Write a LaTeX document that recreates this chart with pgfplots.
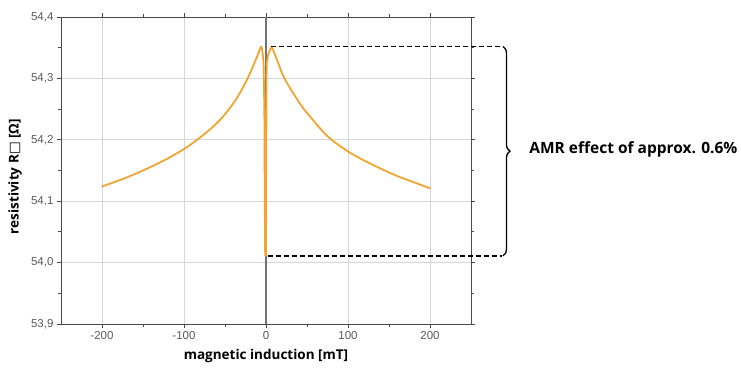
\documentclass[border=0pt]{standalone}
\usepackage{fontspec}
\setmainfont{Open Sans}
\newfontfamily\tickfont{Liberation Sans}
\newfontfamily\dejavu{DejaVu Sans}
\usepackage{pgfplots}
\pgfplotsset{compat=1.18}
\usetikzlibrary{decorations.pathreplacing}
\definecolor{curve}{HTML}{F2A431}
\definecolor{gridc}{HTML}{D6D6D6}
\definecolor{axc}{HTML}{4A4A4A}
\definecolor{tickc}{HTML}{5A5A5A}
\begin{document}
\begin{tikzpicture}[x=1pt,y=1pt]
\useasboundingbox (0,0) rectangle (741,371);
\begin{axis}[
  at={(61pt,47pt)}, anchor=south west,
  scale only axis, width=410pt, height=307pt,
  xmin=-250, xmax=250, ymin=53.9, ymax=54.4,
  xtick={-200,-100,0,100,200},
  ytick={53.9,54,54.1,54.2,54.3,54.4},
  minor tick num=1,
  grid=major,
  major grid style={gridc, line width=0.9pt},
  axis line style={axc, line width=0.9pt},
  tick style={axc, line width=0.8pt},
  tick align=outside,
  major tick length=4pt, minor tick length=3pt,
  /pgf/number format/assume math mode=true,
  ticklabel style={font=\tickfont\fontsize{11.5}{13}\selectfont, text=tickc},
  yticklabel style={/pgf/number format/.cd, use comma, fixed, fixed zerofill, precision=1},
  xticklabel style={/pgf/number format/.cd, fixed, precision=0},
  xlabel={\bfseries magnetic induction [mT]},
  xlabel style={at={(axis description cs:0.5,0)}, anchor=center, yshift=-32pt, font=\fontsize{13.5}{15}\selectfont},
  ylabel={\bfseries resistivity R{\dejavu □} [Ω]},
  ylabel style={at={(axis description cs:0,0.48)}, anchor=center, yshift=46pt, font=\fontsize{13.5}{15}\selectfont},
  clip=false,
]
\draw[color=black!55, line width=1.3pt] (axis cs:0,53.9) -- (axis cs:0,54.4);
% left branch
\addplot[color=curve, line width=1.8pt, mark=none, smooth, tension=0.5, line cap=round] coordinates {
(-200,54.124) (-175,54.136) (-150,54.150) (-122,54.168) (-100,54.185)
(-85,54.199) (-70,54.215) (-57,54.231) (-45,54.250) (-35,54.269)
(-25,54.293) (-18,54.313) (-12,54.332) (-9,54.342) (-6,54.352)
};
% spike around zero
\addplot[color=curve, line width=1.8pt, mark=none, line join=round] coordinates {
(-6,54.352) (-5,54.349) (-4,54.340) (-3,54.326) (-2,54.250)
(-1.5,54.100) (-1,54.011) (0,54.011) (0.3,54.150) (0.6,54.300)
(1,54.325) (2.5,54.338) (5,54.347) (7,54.351)
};
% right branch
\addplot[color=curve, line width=1.8pt, mark=none, smooth, tension=0.5, line cap=round] coordinates {
(7,54.351) (9,54.345) (12,54.335) (16,54.321) (21,54.304)
(28,54.287) (36,54.270) (45,54.252) (55,54.236) (67,54.217)
(80,54.200) (100,54.181) (120,54.166) (140,54.153) (160,54.141)
(180,54.131) (200,54.121)
};
\draw[black, line width=1.4pt, dash pattern=on 5pt off 3pt] (axis cs:6,54.352) -- (axis cs:288,54.352);
\draw[black, line width=1.4pt, dash pattern=on 5pt off 3pt] (axis cs:2,54.011) -- (axis cs:288,54.011);
\draw[black, line width=1.3pt, decorate, decoration={brace, amplitude=7pt}] (axis cs:289,54.352) -- (axis cs:289,54.011);
\node[anchor=west, font=\bfseries\fontsize{15.5}{17}\selectfont, inner sep=0pt] at (axis cs:321,54.184) {AMR effect of approx. 0.6\%};
\end{axis}
\end{tikzpicture}
\end{document}
